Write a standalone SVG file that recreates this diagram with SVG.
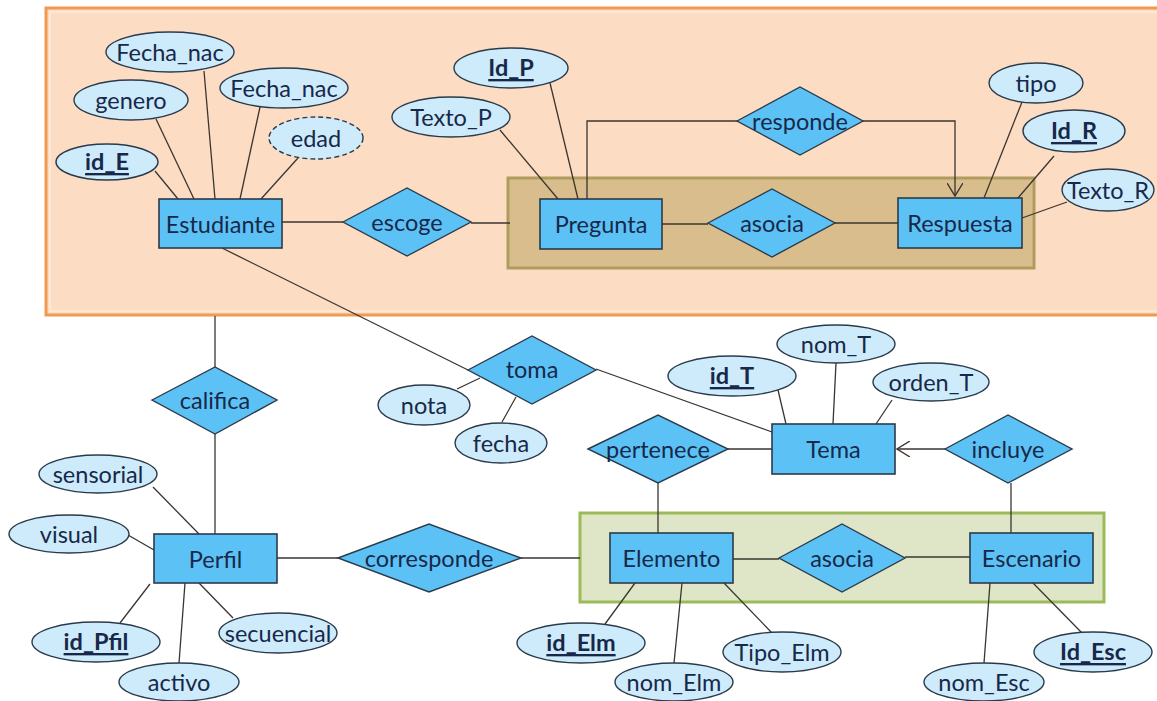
<svg xmlns="http://www.w3.org/2000/svg" width="1157" height="701" viewBox="0 0 1157 701">
<style>
.ent{fill:#5CC2F5;stroke:#2B3A4A;stroke-width:1.6}
.rel{fill:#5CC2F5;stroke:#2B3A4A;stroke-width:1.4}
.att{fill:#CDEBFA;stroke:#2B3A4A;stroke-width:1.4}
.dash{stroke-dasharray:5,3}
.ln{stroke:#3B3530;stroke-width:1.3;fill:none}
text{font-family:Lato,"Open Sans","Liberation Sans",sans-serif;font-size:23.5px;fill:#17284A;text-anchor:middle;dominant-baseline:central}
.key{font-weight:bold;text-decoration:underline}
</style>
<defs>
<marker id="arr" viewBox="0 0 14 16" refX="13" refY="8" markerWidth="14" markerHeight="16" markerUnits="userSpaceOnUse" orient="auto">
<path d="M0,0 L13,8 L0,16" fill="none" stroke="#3B3530" stroke-width="1.4"/>
</marker>
</defs>
<rect width="1157" height="701" fill="#FFFFFF"/>
<g id="groupBox">
<rect x="46" y="8" width="1125" height="307" fill="#FCDCC3" stroke="#F09A50" stroke-width="3"/>
<rect x="50" y="12" width="1117" height="299" fill="none" stroke="#FDEBDD" stroke-width="1.5"/>
<rect x="508" y="178" width="526" height="90" fill="#D9BD8D" stroke="#B09C5E" stroke-width="3"/>
<rect x="580" y="513" width="524" height="89" fill="#DFE5C7" stroke="#9BBB59" stroke-width="3"/>
</g>
<g id="connectors">
<line class="ln" x1="155" y1="171" x2="178" y2="199"/>
<line class="ln" x1="156" y1="119" x2="194" y2="199"/>
<line class="ln" x1="204" y1="71" x2="215" y2="199"/>
<line class="ln" x1="260" y1="107" x2="240" y2="199"/>
<line class="ln" x1="298" y1="158" x2="261" y2="199"/>
<line class="ln" x1="282" y1="222" x2="343" y2="222"/>
<line class="ln" x1="471" y1="223" x2="510" y2="223"/>
<line class="ln" x1="222" y1="248" x2="468" y2="370"/>
<line class="ln" x1="500" y1="130" x2="558" y2="199"/>
<line class="ln" x1="550" y1="83" x2="578" y2="199"/>
<polyline class="ln" points="587,199 587,121 737,121"/>
<polyline class="ln" points="863,121 955,121 955,196" marker-end="url(#arr)"/>
<line class="ln" x1="662" y1="224" x2="708" y2="224"/>
<line class="ln" x1="835" y1="223" x2="898" y2="223"/>
<line class="ln" x1="1022" y1="102" x2="984" y2="198"/>
<line class="ln" x1="1054" y1="156" x2="1018" y2="198"/>
<line class="ln" x1="1067" y1="202" x2="1022" y2="218"/>
<line class="ln" x1="215" y1="316" x2="215" y2="367"/>
<line class="ln" x1="215" y1="434" x2="215" y2="534"/>
<line class="ln" x1="153" y1="487" x2="199" y2="534"/>
<line class="ln" x1="128" y1="535" x2="154" y2="550"/>
<line class="ln" x1="120" y1="623" x2="150" y2="584"/>
<line class="ln" x1="179" y1="663" x2="185" y2="583"/>
<line class="ln" x1="233" y1="618" x2="199" y2="583"/>
<line class="ln" x1="277" y1="558" x2="338" y2="558"/>
<line class="ln" x1="521" y1="558" x2="580" y2="558"/>
<line class="ln" x1="457" y1="389" x2="480" y2="378"/>
<line class="ln" x1="502" y1="422" x2="516" y2="397"/>
<line class="ln" x1="596" y1="369" x2="772" y2="432"/>
<line class="ln" x1="778" y1="390" x2="786" y2="424"/>
<line class="ln" x1="836" y1="363" x2="833" y2="424"/>
<line class="ln" x1="892" y1="400" x2="876" y2="424"/>
<line class="ln" x1="728" y1="449" x2="772" y2="449"/>
<line class="ln" x1="658" y1="483" x2="658" y2="533"/>
<line class="ln" x1="945" y1="449" x2="897" y2="449" marker-end="url(#arr)"/>
<line class="ln" x1="1011" y1="483" x2="1011" y2="533"/>
<line class="ln" x1="733" y1="559" x2="779" y2="559"/>
<line class="ln" x1="905" y1="557" x2="970" y2="557"/>
<line class="ln" x1="605" y1="624" x2="635" y2="583"/>
<line class="ln" x1="674" y1="663" x2="682" y2="583"/>
<line class="ln" x1="772" y1="633" x2="724" y2="583"/>
<line class="ln" x1="1082" y1="633" x2="1033" y2="583"/>
<line class="ln" x1="984" y1="663" x2="990" y2="583"/>
</g>
<g id="Estudiante"><rect class="ent" x="159" y="199" width="123" height="49"/><text x="220.5" y="224">Estudiante</text></g>
<g id="att_FechaNac1"><ellipse class="att" cx="170" cy="52" rx="64" ry="20"/><text x="170" y="52">Fecha_nac</text></g>
<g id="att_genero"><ellipse class="att" cx="131" cy="100" rx="57" ry="20"/><text x="131" y="100">genero</text></g>
<g id="att_FechaNac2"><ellipse class="att" cx="284" cy="88" rx="64" ry="20"/><text x="284" y="88">Fecha_nac</text></g>
<g id="att_edad"><ellipse class="att dash" cx="316" cy="138" rx="47" ry="21"/><text x="316" y="138">edad</text></g>
<g id="att_idE"><ellipse class="att" cx="107" cy="162" rx="51" ry="18"/><text class="key" x="107" y="161">id_E</text></g>
<g id="escoge"><polygon class="rel" points="343,222 407,188 471,222 407,256"/><text x="407" y="222">escoge</text></g>
<g id="Pregunta"><rect class="ent" x="540" y="199" width="122" height="50"/><text x="601" y="224">Pregunta</text></g>
<g id="att_TextoP"><ellipse class="att" cx="451" cy="117" rx="59" ry="20"/><text x="451" y="117">Texto_P</text></g>
<g id="att_IdP"><ellipse class="att" cx="511" cy="68" rx="57" ry="20"/><text class="key" x="511" y="67">Id_P</text></g>
<g id="responde"><polygon class="rel" points="737,121 800,87 863,121 800,155"/><text x="800" y="121">responde</text></g>
<g id="asocia1"><polygon class="rel" points="708,223 772,189 835,223 772,257"/><text x="772" y="223">asocia</text></g>
<g id="Respuesta"><rect class="ent" x="898" y="198" width="124" height="50"/><text x="960" y="223">Respuesta</text></g>
<g id="att_tipo"><ellipse class="att" cx="1036" cy="83" rx="47" ry="20"/><text x="1036" y="83">tipo</text></g>
<g id="att_IdR"><ellipse class="att" cx="1074" cy="131" rx="51" ry="21"/><text class="key" x="1074" y="130">Id_R</text></g>
<g id="att_TextoR"><ellipse class="att" cx="1108" cy="190" rx="46" ry="21"/><text x="1108" y="190">Texto_R</text></g>
<g id="califica"><polygon class="rel" points="152,400 215,367 277,400 215,434"/><text x="215" y="400">califica</text></g>
<g id="toma"><polygon class="rel" points="468,370 532,336 596,370 532,404"/><text x="532" y="369">toma</text></g>
<g id="att_nota"><ellipse class="att" cx="424" cy="405" rx="46" ry="20"/><text x="424" y="405">nota</text></g>
<g id="att_fecha"><ellipse class="att" cx="501" cy="443" rx="46" ry="20"/><text x="501" y="443">fecha</text></g>
<g id="Tema"><rect class="ent" x="772" y="424" width="123" height="50"/><text x="833.5" y="449">Tema</text></g>
<g id="att_idT"><ellipse class="att" cx="732" cy="376" rx="64" ry="20"/><text class="key" x="732" y="375">id_T</text></g>
<g id="att_nomT"><ellipse class="att" cx="836" cy="344" rx="59" ry="19"/><text x="836" y="344">nom_T</text></g>
<g id="att_ordenT"><ellipse class="att" cx="931" cy="382" rx="58" ry="19"/><text x="931" y="382">orden_T</text></g>
<g id="pertenece"><polygon class="rel" points="588,449 658,415 728,449 658,483"/><text x="658" y="449">pertenece</text></g>
<g id="incluye"><polygon class="rel" points="945,449 1008,415 1072,449 1008,483"/><text x="1008" y="449">incluye</text></g>
<g id="Perfil"><rect class="ent" x="154" y="534" width="123" height="49"/><text x="215.5" y="559">Perfil</text></g>
<g id="att_sensorial"><ellipse class="att" cx="98" cy="474" rx="59" ry="19"/><text x="98" y="474">sensorial</text></g>
<g id="att_visual"><ellipse class="att" cx="69" cy="534" rx="60" ry="19"/><text x="69" y="534">visual</text></g>
<g id="att_idPfil"><ellipse class="att" cx="96" cy="642" rx="64" ry="20"/><text class="key" x="96" y="641">id_Pfil</text></g>
<g id="att_activo"><ellipse class="att" cx="179" cy="682" rx="60" ry="19"/><text x="179" y="682">activo</text></g>
<g id="att_secuencial"><ellipse class="att" cx="278" cy="633" rx="59" ry="20"/><text x="278" y="633">secuencial</text></g>
<g id="corresponde"><polygon class="rel" points="338,558 429,524 521,558 429,592"/><text x="429" y="558">corresponde</text></g>
<g id="Elemento"><rect class="ent" x="610" y="533" width="123" height="50"/><text x="671.5" y="558">Elemento</text></g>
<g id="asocia2"><polygon class="rel" points="779,558 842,524 905,558 842,592"/><text x="842" y="558">asocia</text></g>
<g id="Escenario"><rect class="ent" x="970" y="533" width="123" height="50"/><text x="1031.5" y="558">Escenario</text></g>
<g id="att_idElm"><ellipse class="att" cx="581" cy="643" rx="64" ry="20"/><text class="key" x="581" y="642">id_Elm</text></g>
<g id="att_nomElm"><ellipse class="att" cx="674" cy="682" rx="59" ry="19"/><text x="674" y="682">nom_Elm</text></g>
<g id="att_TipoElm"><ellipse class="att" cx="782" cy="652" rx="59" ry="20"/><text x="782" y="652">Tipo_Elm</text></g>
<g id="att_IdEsc"><ellipse class="att" cx="1093" cy="652" rx="59" ry="20"/><text class="key" x="1093" y="651">Id_Esc</text></g>
<g id="att_nomEsc"><ellipse class="att" cx="984" cy="682" rx="60" ry="19"/><text x="984" y="682">nom_Esc</text></g>
</svg>
